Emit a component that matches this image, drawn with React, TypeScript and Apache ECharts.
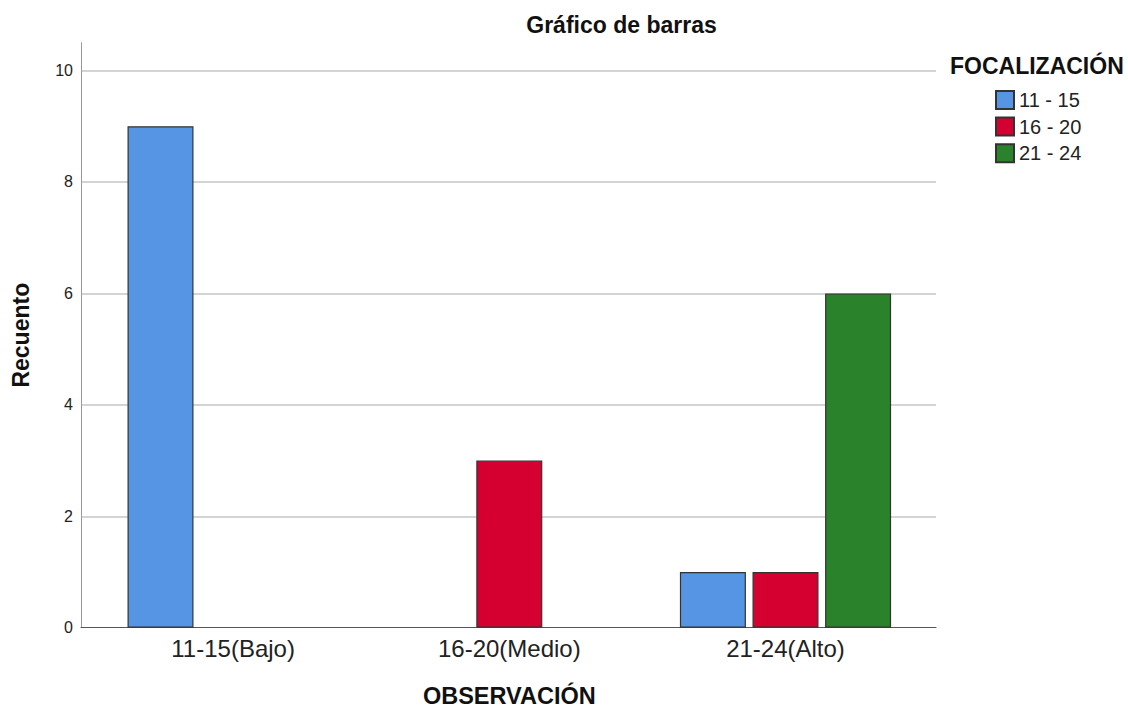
import React, { useEffect, useRef } from "react";
import * as echarts from "echarts";

const categories = ["11-15(Bajo)", "16-20(Medio)", "21-24(Alto)"];
const seriesNames = ["11 - 15", "16 - 20", "21 - 24"];
const values11_15 = [9, null, 1];
const values16_20 = [null, 3, 1];
const values21_24 = [null, null, 6];
const seriesColors = ["#5595E3", "#D5002F", "#2A822A"];
const yMax = 10.5;
const yInterval = 2;

const FONT = "'Liberation Sans', Arial, sans-serif";

export default function App() {
  const ref = useRef<HTMLDivElement>(null);
  useEffect(() => {
    if (!ref.current) return;
    const chart = echarts.init(ref.current, undefined, { renderer: "svg" });
    const allValues = [values11_15, values16_20, values21_24];
    chart.setOption({
      animation: false,
      textStyle: { fontFamily: FONT },
      grid: [
        { left: 81, right: 192, top: 42.7, bottom: 80.3, outerBoundsMode: "none", containLabel: false },
        { left: 95, right: 204.4, top: 42.7, bottom: 80.3, outerBoundsMode: "none", containLabel: false },
      ],
      xAxis: [
        {
          gridIndex: 0,
          type: "value",
          min: 0,
          max: 1,
          axisLine: { show: true, lineStyle: { color: "#555", width: 1 } },
          axisTick: { show: false },
          axisLabel: { show: false },
          splitLine: { show: false },
        },
        {
          gridIndex: 1,
          type: "category",
          data: categories,
          axisLine: { show: false },
          axisTick: { show: false },
          axisLabel: { fontSize: 24, color: "#222", margin: 9, fontFamily: FONT },
          name: "OBSERVACIÓN",
          nameLocation: "middle",
          nameGap: 56,
          nameTextStyle: { fontSize: 23.5, fontWeight: "bold", color: "#111", fontFamily: FONT },
        },
      ],
      yAxis: [
        {
          gridIndex: 0,
          type: "value",
          min: 0,
          max: yMax,
          interval: yInterval,
          axisLine: { show: true, lineStyle: { color: "#999", width: 1 } },
          axisTick: { show: false },
          axisLabel: { fontSize: 16, color: "#222", margin: 8, showMaxLabel: false, fontFamily: FONT },
          splitLine: { show: true, showMaxLine: false, showMinLine: false, lineStyle: { color: "#d4d4d4", width: 2 } },
          name: "Recuento",
          nameLocation: "middle",
          nameGap: 49,
          nameTextStyle: { fontSize: 23, fontWeight: "bold", color: "#111", fontFamily: FONT },
        },
        {
          gridIndex: 1,
          type: "value",
          min: 0,
          max: yMax,
          interval: yInterval,
          show: false,
        },
      ],
      legend: {
        orient: "vertical",
        left: 995,
        top: 90,
        padding: 0,
        itemWidth: 18,
        itemHeight: 18,
        itemGap: 6.6,
        icon: "rect",
        data: seriesNames,
        textStyle: { fontSize: 20, color: "#222", fontFamily: FONT },
      },
      graphic: [
        {
          type: "text",
          x: 621.5,
          y: 24.7,
          style: {
            text: "Gráfico de barras",
            font: "bold 23px " + FONT,
            fill: "#111",
            textAlign: "center",
            textVerticalAlign: "middle",
          },
        },
        {
          type: "text",
          x: 950,
          y: 65.7,
          style: {
            text: "FOCALIZACIÓN",
            font: "bold 23px " + FONT,
            fill: "#111",
            textAlign: "left",
            textVerticalAlign: "middle",
          },
        },
      ],
      series: seriesNames.map((name, i) => ({
        name,
        type: "bar",
        xAxisIndex: 1,
        yAxisIndex: 1,
        barWidth: 66,
        barGap: "10%",
        data: allValues[i].map((v) => (v === null ? "-" : v)),
        itemStyle: { color: seriesColors[i], borderColor: "#333", borderWidth: 1.2 },
      })),
    });
    return () => chart.dispose();
  }, []);
  return (
    <div
      ref={ref}
      style={{ position: "fixed", left: 0, top: 0, width: 1128, height: 708, background: "#fff" }}
    />
  );
}
